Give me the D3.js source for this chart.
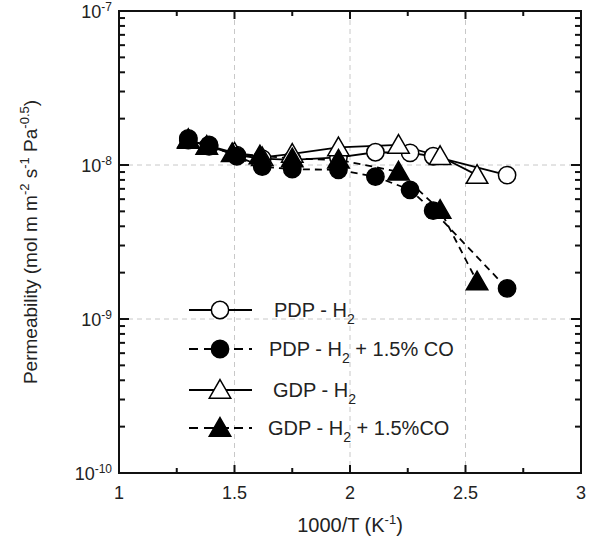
<!DOCTYPE html>
<html>
<head>
  <meta charset="utf-8">
  <script src="https://d3js.org/d3.v7.min.js"></script>
  <style>
    body { margin: 0; background: #fff; }
    text { font-family: "Liberation Sans", Arial, sans-serif; fill: #222; }
    .grid { stroke: #c8c8c8; stroke-dasharray: 5,4; stroke-width: 1; }
  </style>
</head>
<body>
  <svg width="598" height="541"></svg>
  <script>
    // data
    const pdpH2X = [1.30, 1.39, 1.51, 1.62, 1.75, 1.95, 2.11, 2.26, 2.36, 2.68];
    const pdpH2Y = [1.45e-8, 1.32e-8, 1.16e-8, 1.10e-8, 1.08e-8, 1.12e-8, 1.21e-8, 1.20e-8, 1.14e-8, 0.86e-8];

    const pdpCOX = [1.30, 1.39, 1.51, 1.62, 1.75, 1.95, 2.11, 2.26, 2.36, 2.68];
    const pdpCOY = [1.49e-8, 1.35e-8, 1.14e-8, 0.975e-8, 0.94e-8, 0.93e-8, 0.84e-8, 0.69e-8, 0.505e-8, 0.158e-8];

    const gdpH2X = [1.30, 1.50, 1.62, 1.75, 1.95, 2.21, 2.39, 2.55];
    const gdpH2Y = [1.45e-8, 1.20e-8, 1.12e-8, 1.18e-8, 1.30e-8, 1.35e-8, 1.14e-8, 0.86e-8];

    const gdpCOX = [1.30, 1.38, 1.49, 1.61, 1.75, 1.95, 2.21, 2.39, 2.55];
    const gdpCOY = [1.47e-8, 1.33e-8, 1.19e-8, 1.15e-8, 1.10e-8, 1.08e-8, 0.905e-8, 0.51e-8, 0.175e-8];

    const legendLabels = [
      ["PDP -  H", "2", ""],
      ["PDP - H", "2", " + 1.5% CO"],
      ["GDP - H", "2", ""],
      ["GDP - H", "2", " + 1.5%CO"]
    ];

    const xTicks = [1, 1.5, 2, 2.5, 3];
    const yTicks = [1e-10, 1e-9, 1e-8, 1e-7];
    const yTickExp = ["-10", "-9", "-8", "-7"];

    const svg = d3.select("svg");
    const pL = 119, pR = 581, pT = 11, pB = 473;

    const x = d3.scaleLinear().domain([1, 3]).range([pL, pR]);
    const y = d3.scaleLog().domain([1e-10, 1e-7]).range([pB, pT]);

    // grid
    svg.append("g").selectAll("line")
      .data([1.5, 2, 2.5]).enter().append("line")
      .attr("class", "grid")
      .attr("x1", d => x(d)).attr("x2", d => x(d))
      .attr("y1", pT).attr("y2", pB);
    svg.append("g").selectAll("line")
      .data([1e-9, 1e-8]).enter().append("line")
      .attr("class", "grid")
      .attr("x1", pL).attr("x2", pR)
      .attr("y1", d => y(d)).attr("y2", d => y(d));

    // frame
    svg.append("rect")
      .attr("x", pL).attr("y", pT)
      .attr("width", pR - pL).attr("height", pB - pT)
      .attr("fill", "none").attr("stroke", "#111").attr("stroke-width", 2);

    // ticks (inward on all sides)
    const xMinor = d3.range(1.25, 3, 0.5);
    const ticks = svg.append("g").attr("stroke", "#111").attr("stroke-width", 2);
    [[xTicks, 8], [xMinor, 5]].forEach(([vals, len]) => {
      vals.forEach(v => {
        ticks.append("line").attr("x1", x(v)).attr("x2", x(v)).attr("y1", pB).attr("y2", pB - len);
        ticks.append("line").attr("x1", x(v)).attr("x2", x(v)).attr("y1", pT).attr("y2", pT + len);
      });
    });
    const yMinor = [];
    [1e-10, 1e-9, 1e-8].forEach(d => { for (let k = 2; k <= 9; k++) yMinor.push(d * k); });
    [[yTicks, 10], [yMinor, 6]].forEach(([vals, len]) => {
      vals.forEach(v => {
        ticks.append("line").attr("x1", pL).attr("x2", pL + len).attr("y1", y(v)).attr("y2", y(v));
        ticks.append("line").attr("x1", pR).attr("x2", pR - len).attr("y1", y(v)).attr("y2", y(v));
      });
    });

    // tick labels
    svg.append("g").selectAll("text")
      .data(xTicks).enter().append("text")
      .attr("x", d => x(d)).attr("y", 499)
      .attr("text-anchor", "middle").attr("font-size", 18)
      .text(d => d);

    const yl = svg.append("g").selectAll("text")
      .data(yTicks).enter().append("text")
      .attr("x", 112).attr("y", d => y(d) + 7)
      .attr("text-anchor", "end").attr("font-size", 18);
    yl.append("tspan").text("10");
    yl.append("tspan").attr("dy", -7).attr("font-size", 12).text((d, i) => yTickExp[i]);

    // axis titles
    const xt = svg.append("text").attr("x", 350).attr("y", 532)
      .attr("text-anchor", "middle").attr("font-size", 20);
    xt.append("tspan").text("1000/T (K");
    xt.append("tspan").attr("dy", -8).attr("font-size", 13).text("-1");
    xt.append("tspan").attr("dy", 8).text(")");

    const yt = svg.append("text")
      .attr("transform", "translate(37,242) rotate(-90)")
      .attr("text-anchor", "middle").attr("font-size", 19);
    yt.append("tspan").text("Permeability (mol m m");
    yt.append("tspan").attr("dy", -8).attr("font-size", 13).text("-2");
    yt.append("tspan").attr("dy", 8).text(" s");
    yt.append("tspan").attr("dy", -8).attr("font-size", 13).text("-1");
    yt.append("tspan").attr("dy", 8).text(" Pa");
    yt.append("tspan").attr("dy", -8).attr("font-size", 13).text("-0.5");
    yt.append("tspan").attr("dy", 8).text(")");

    // series
    const series = [
      { xs: pdpH2X, ys: pdpH2Y, shape: d3.symbolCircle, fill: "#fff", dash: null },
      { xs: gdpH2X, ys: gdpH2Y, shape: d3.symbolTriangle, fill: "#fff", dash: null },
      { xs: pdpCOX, ys: pdpCOY, shape: d3.symbolCircle, fill: "#000", dash: "7,5" },
      { xs: gdpCOX, ys: gdpCOY, shape: d3.symbolTriangle, fill: "#000", dash: "7,5" }
    ];
    const line = d3.line().x(d => x(d[0])).y(d => y(d[1]));
    const sym = s => d3.symbol().type(s).size(s === d3.symbolCircle ? 235 : 200)();

    series.forEach(s => {
      svg.append("path")
        .datum(s.xs.map((v, i) => [v, s.ys[i]]))
        .attr("d", line)
        .attr("fill", "none").attr("stroke", "#000").attr("stroke-width", 1.8)
        .attr("stroke-dasharray", s.dash);
    });
    series.forEach(s => {
      svg.append("g").selectAll("path")
        .data(s.xs.map((v, i) => [v, s.ys[i]])).enter().append("path")
        .attr("d", sym(s.shape))
        .attr("transform", d => `translate(${x(d[0])},${y(d[1]) + (s.shape === d3.symbolTriangle ? 2 : 0)})`)
        .attr("fill", s.fill).attr("stroke", "#000").attr("stroke-width", 1.5);
    });

    // legend
    const legendRows = [
      { y: 310, shape: d3.symbolCircle, fill: "#fff", dash: null, tx: 274 },
      { y: 349, shape: d3.symbolCircle, fill: "#000", dash: "7,5", tx: 269 },
      { y: 390, shape: d3.symbolTriangle, fill: "#fff", dash: null, tx: 273 },
      { y: 428, shape: d3.symbolTriangle, fill: "#000", dash: "7,5", tx: 268 }
    ];
    const lg = svg.append("g");
    legendRows.forEach((r, i) => {
      lg.append("line")
        .attr("x1", 189).attr("x2", 252).attr("y1", r.y).attr("y2", r.y)
        .attr("stroke", "#000").attr("stroke-width", 1.8)
        .attr("stroke-dasharray", r.dash ? "9,6,16,6,3,5" : null);
      lg.append("path").attr("d", sym(r.shape))
        .attr("transform", `translate(220,${r.y + (r.shape === d3.symbolTriangle ? 2 : 0)})`)
        .attr("fill", r.fill).attr("stroke", "#000").attr("stroke-width", 1.5);
      const t = lg.append("text").attr("x", r.tx).attr("y", r.y + 7).attr("font-size", 20);
      t.append("tspan").text(legendLabels[i][0]);
      t.append("tspan").attr("dy", 7).attr("font-size", 14).text(legendLabels[i][1]);
      t.append("tspan").attr("dy", -7).text(legendLabels[i][2]);
    });
  </script>
</body>
</html>
